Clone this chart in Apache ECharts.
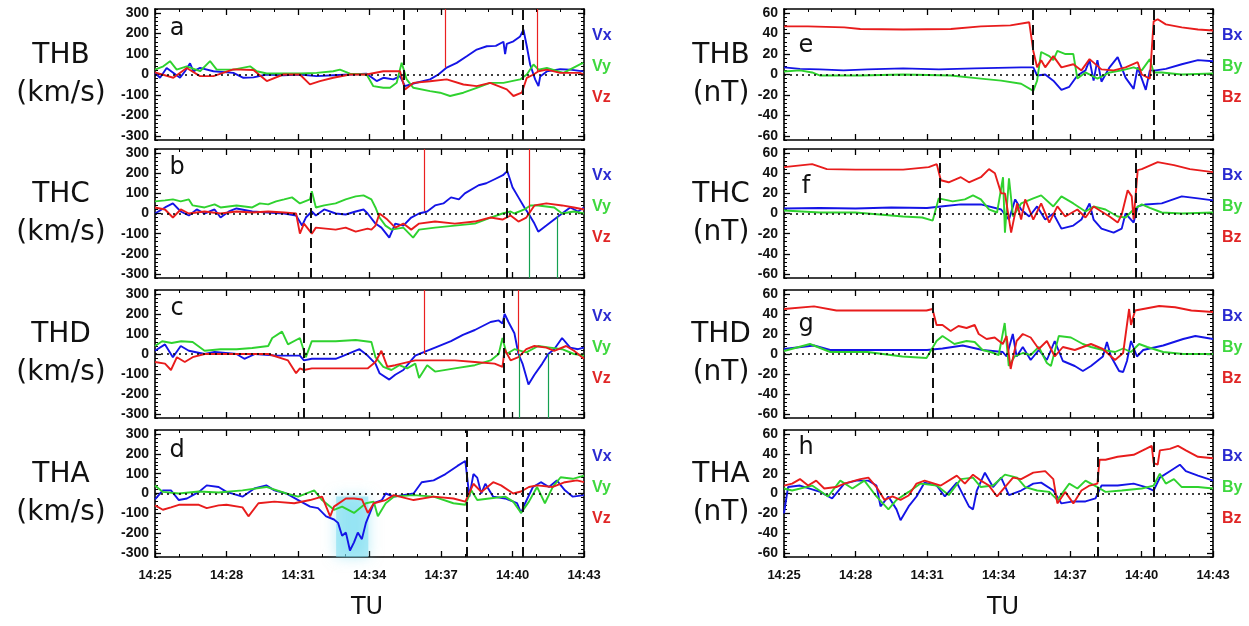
<!DOCTYPE html>
<html>
<head>
<meta charset="utf-8">
<script src="https://cdn.jsdelivr.net/npm/echarts@6/dist/echarts.min.js"></script>
<style>
  html, body { margin: 0; padding: 0; background: #ffffff; }
  #chart { width: 1249px; height: 626px; }
</style>
</head>
<body>
<div id="chart"></div>
<script>
// ---- Time is given in minutes after 14:00 (UT) ----

// Ion velocity (km/s)
const thbVx = [[25.0,8],[25.21,-16],[25.49,32],[26.05,-16],[26.26,16],[26.47,55],[26.61,15],[26.89,32],[27.45,16],[28.29,8],[28.71,-16],[29.13,-14],[29.69,0],[30.38,-4],[31.08,0],[31.78,-8],[32.48,-4],[33.18,0],[33.88,4],[34.3,-32],[34.58,-16],[35.0,-24],[35.28,-8],[35.49,-57],[35.84,-44],[36.54,-24],[36.89,0],[37.24,34],[37.66,57],[38.08,89],[38.5,122],[38.92,138],[39.3,140],[39.62,160],[39.69,100],[39.76,150],[40.04,162],[40.32,186],[40.46,219],[40.6,138],[40.74,49],[40.95,-24],[41.09,-57],[41.16,-10],[41.44,15],[42.0,26],[42.42,24],[42.97,15]];
const thbVy = [[25.0,24],[25.35,40],[25.63,65],[25.91,24],[26.33,40],[26.89,16],[27.31,65],[27.59,24],[28.29,24],[28.99,40],[29.27,16],[29.69,5],[31.08,5],[31.78,8],[32.48,16],[32.76,24],[33.18,4],[33.88,0],[34.16,-57],[34.58,-65],[34.86,-65],[35.14,-40],[35.35,57],[35.56,-24],[35.84,-65],[36.54,-81],[36.96,-89],[37.38,-105],[37.94,-89],[38.5,-65],[39.06,-41],[39.62,-41],[40.32,-24],[40.6,0],[40.88,49],[41.09,24],[41.44,32],[42.14,8],[42.83,49],[42.97,57]];
const thbVz = [[25.0,10],[25.77,-16],[26.33,32],[26.89,-8],[27.45,-8],[28.29,25],[29.13,22],[29.69,-32],[30.38,0],[31.08,0],[31.5,-48],[31.92,-32],[32.48,-16],[33.18,0],[33.88,0],[34.58,16],[35.28,16],[35.49,-73],[35.84,-41],[36.54,-33],[37.24,-24],[37.94,-49],[38.5,-57],[39.06,-41],[39.76,-73],[40.04,-105],[40.39,-89],[40.6,-16],[40.88,0],[41.09,16],[41.44,24],[42.0,8],[42.83,8],[42.97,0]];

const thcVx = [[25.0,0],[25.42,30],[25.75,50],[26.08,10],[26.42,-10],[26.75,20],[27.08,0],[27.5,20],[27.75,-20],[28.1,10],[28.42,25],[29.08,10],[29.75,5],[30.42,0],[30.92,-10],[31.17,-60],[31.33,-20],[31.58,10],[31.75,-10],[32.1,20],[32.58,0],[33.0,-5],[33.42,10],[33.75,20],[33.92,0],[34.25,-50],[34.5,-70],[34.83,-120],[35.08,-50],[35.42,-60],[35.75,-20],[36.08,0],[36.42,10],[36.75,40],[37.1,50],[37.42,80],[37.75,70],[38.0,100],[38.58,140],[38.9,150],[39.25,170],[39.6,190],[39.78,210],[39.92,160],[40.0,130],[40.25,80],[40.5,30],[40.67,0],[40.92,-50],[41.08,-90],[41.42,-60],[41.75,-30],[42.08,0],[42.42,30],[42.75,10],[43.0,30]];
const thcVy = [[25.0,60],[25.42,65],[25.75,70],[26.08,60],[26.42,70],[26.58,40],[27.08,30],[27.5,45],[27.75,30],[28.42,40],[29.08,30],[29.4,50],[29.75,45],[30.08,60],[30.42,70],[30.75,80],[31.08,50],[31.5,70],[31.58,110],[31.75,30],[32.1,40],[32.58,50],[33.0,70],[33.42,85],[33.75,90],[34.08,70],[34.25,30],[34.42,-20],[34.67,-60],[34.92,-80],[35.42,-70],[35.83,-120],[36.08,-80],[36.75,-70],[37.58,-60],[38.42,-50],[39.08,-20],[39.58,0],[39.92,10],[40.08,0],[40.5,20],[40.75,40],[41.08,40],[41.75,30],[42.08,0],[42.58,10],[43.0,0]];
const thcVz = [[25.0,30],[25.42,20],[25.75,-20],[26.08,20],[26.42,0],[27.08,10],[27.75,0],[28.42,10],[29.08,5],[29.75,10],[30.42,5],[30.92,0],[31.08,-100],[31.25,-50],[31.58,-100],[31.75,-70],[32.58,-80],[33.0,-70],[33.42,-90],[33.92,-75],[34.08,-80],[34.25,-60],[34.42,0],[34.75,-30],[35.08,-70],[35.42,-50],[35.75,-80],[36.08,-50],[36.75,-40],[37.58,-50],[38.42,-40],[39.08,-20],[39.58,-30],[39.92,-10],[40.25,-40],[40.58,-20],[40.92,40],[41.42,50],[42.08,40],[42.58,30],[43.0,20]];

const thdVx = [[25.0,16],[25.42,48],[25.75,-16],[26.08,40],[26.42,16],[27.08,0],[27.5,10],[28.42,0],[28.75,-24],[29.2,0],[30.08,-8],[31.08,-8],[31.25,-32],[31.58,-24],[32.58,-24],[32.92,-8],[33.58,24],[33.92,-8],[34.25,-48],[34.42,-96],[34.83,-128],[35.08,-104],[35.42,-80],[35.75,-32],[35.92,-8],[36.25,8],[36.75,32],[37.42,64],[37.92,96],[38.42,120],[39.08,160],[39.42,168],[39.58,152],[39.67,200],[39.83,160],[40.08,104],[40.25,0],[40.42,-48],[40.67,-152],[40.92,-104],[41.25,-48],[41.5,0],[41.75,24],[42.08,80],[42.42,32],[42.75,24],[43.0,32]];
const thdVy = [[25.0,40],[25.3,64],[25.7,55],[26.1,64],[26.58,60],[27.08,16],[27.75,24],[28.42,24],[29.08,30],[29.75,40],[29.92,80],[30.33,112],[30.58,48],[31.08,80],[31.33,-16],[31.58,64],[32.58,64],[33.42,70],[34.08,60],[34.25,-16],[34.58,-64],[34.92,-80],[35.25,-56],[35.58,-72],[35.92,-48],[36.08,-120],[36.42,-56],[36.75,-88],[37.58,-72],[38.42,-56],[39.08,-32],[39.42,0],[39.58,80],[39.75,0],[40.08,24],[40.58,8],[41.08,40],[41.58,32],[42.08,24],[42.58,0],[43.0,-8]];
const thdVz = [[25.0,-40],[25.42,-48],[25.67,-80],[25.92,-16],[26.25,-40],[26.58,-16],[27.08,0],[28.42,0],[29.75,0],[30.58,-32],[30.92,-96],[31.08,-72],[31.25,-80],[31.58,-72],[32.58,-72],[33.42,-72],[33.92,-72],[34.25,-40],[34.5,16],[34.75,-64],[35.08,-56],[35.92,-32],[36.75,-32],[37.58,-32],[38.42,-40],[39.25,-48],[39.58,-64],[39.67,24],[39.92,-32],[40.25,-16],[40.58,24],[40.92,40],[41.42,32],[41.75,16],[42.25,40],[42.58,16],[43.0,-24]];

const thaVx = [[25.0,-30],[25.33,16],[25.67,16],[26.0,-33],[26.34,-25],[26.84,8],[27.17,41],[27.67,33],[28.0,8],[28.67,-16],[29.17,25],[29.67,41],[30.01,16],[30.51,0],[31.01,-33],[31.51,-66],[31.84,-74],[32.18,-115],[32.51,-131],[32.68,-148],[32.85,-213],[33.01,-197],[33.18,-287],[33.35,-246],[33.51,-197],[33.68,-230],[33.85,-148],[34.02,-98],[34.18,-49],[34.52,-33],[34.68,0],[35.02,-16],[35.85,0],[36.19,57],[36.69,66],[37.19,98],[37.69,139],[38.02,164],[38.19,-16],[38.36,98],[38.52,80],[38.69,0],[38.86,49],[39.19,-16],[39.69,-25],[40.19,-49],[40.36,-98],[40.53,-49],[40.86,33],[41.19,57],[41.53,33],[41.86,66],[42.2,16],[42.53,-16],[43.0,-8]];
const thaVy = [[25.0,40],[25.33,8],[26.0,0],[26.84,10],[27.67,5],[28.67,16],[29.67,33],[30.51,0],[31.01,-16],[31.68,16],[32.01,-33],[32.51,-82],[32.85,-66],[33.35,-98],[33.85,-49],[34.18,-41],[34.35,-115],[34.68,-49],[35.02,-16],[35.85,-8],[36.69,-16],[37.52,-49],[38.02,-57],[38.27,16],[38.52,-33],[39.02,-25],[39.69,-16],[40.03,-41],[40.36,-98],[40.69,-41],[41.03,33],[41.36,-49],[41.69,33],[42.02,82],[42.53,74],[43.0,90]];
const thaVz = [[25.0,-60],[25.33,-82],[25.67,-70],[26.0,-57],[26.84,-57],[27.17,-74],[27.67,-60],[28.0,-57],[28.67,-70],[28.92,-115],[29.34,-49],[30.01,-41],[30.84,-49],[31.51,-33],[32.01,-16],[32.35,-115],[32.51,-66],[33.01,-25],[33.35,-25],[33.68,-30],[33.93,-98],[34.18,-49],[34.68,-33],[35.02,-8],[35.85,-33],[36.69,-16],[37.52,-25],[38.02,-41],[38.36,49],[38.69,8],[39.19,57],[39.52,41],[40.03,0],[40.36,10],[40.69,33],[41.03,41],[41.69,33],[42.2,57],[42.7,66],[43.0,57]];

// Magnetic field (nT)
const thbBx = [[25.0,7],[25.67,5.5],[26.5,5],[27.5,4],[28.5,5],[30.0,6],[31.5,5],[33.0,6],[34.95,7],[35.46,7],[35.62,-1],[35.96,0],[36.3,-6],[36.64,-15],[36.97,-12],[37.31,-1],[37.65,4],[37.82,14],[37.99,-6],[38.15,14],[38.32,-7],[38.66,7],[39.0,17],[39.33,-3],[39.67,-14],[39.84,7],[40.18,-15],[40.35,4],[40.6,4],[41.02,5.5],[41.69,10],[42.37,14],[43.0,13]];
const thbBy = [[25.0,3],[25.67,4],[26.18,2],[26.52,-1],[28.2,-1],[30.0,0],[32.0,-1],[33.26,-4],[34.11,-6],[34.95,-9],[35.46,-16],[35.62,-6],[35.79,22],[36.13,18],[36.3,14],[36.47,23],[36.81,20],[37.14,20],[37.31,-4],[37.65,2],[38.15,-4],[38.66,2],[39.17,4],[39.67,7],[40.01,4],[40.35,15],[40.51,2],[40.85,2],[41.69,0],[43.0,1]];
const thbBz = [[25.0,47],[26.0,47],[27.53,46],[28.2,44.5],[30.0,44],[32.0,44.5],[33.26,47],[34.5,48],[35.29,51],[35.46,23],[35.62,7],[35.79,14],[35.96,7],[36.3,18],[36.64,7],[37.14,10],[37.48,4],[37.82,15],[38.32,5],[38.83,4],[39.33,7],[39.84,12],[40.01,0],[40.35,-4],[40.51,52],[40.68,54],[41.02,49],[41.69,46],[42.37,44],[43.0,43]];

const thcBx = [[25.0,5],[26.5,5.5],[28.0,5],[29.5,6],[31.0,5.5],[31.58,7],[32.42,9],[33.26,9],[34.11,4],[34.44,-6],[34.7,14],[34.95,4],[35.29,-3],[35.62,7],[35.96,-6],[36.3,0],[36.64,-15],[37.14,-12],[37.48,-6],[37.82,10],[37.99,-6],[38.32,-15],[38.83,-19],[39.17,-15],[39.33,0],[39.67,-9],[39.84,7],[40.18,9],[40.85,10],[41.69,17],[42.37,15],[43.0,13]];
const thcBy = [[25.0,3],[26.5,1],[28.0,1],[29.0,-1],[30.0,-3],[30.8,-4],[31.24,-7],[31.49,15],[32.08,12],[32.59,14],[32.93,18],[33.26,14],[33.6,4],[33.94,1],[34.19,36],[34.27,-19],[34.44,35],[34.61,-3],[34.95,10],[35.46,15],[35.79,18],[36.3,7],[36.64,17],[37.14,10],[37.65,2],[37.99,7],[38.49,4],[39.0,-3],[39.33,-4],[39.67,4],[40.01,9],[40.35,5.5],[40.85,1],[41.69,0],[43.0,1]];
const thcBz = [[25.0,46],[26.18,49],[26.8,44],[28.0,43.5],[30.0,43.5],[31.07,46],[31.41,49],[31.58,33],[31.91,31],[32.42,36],[32.76,31],[33.26,36],[33.6,44],[33.85,40],[34.11,20],[34.27,20],[34.53,-19],[34.78,10],[34.95,-6],[35.12,14],[35.46,-6],[35.79,10],[36.13,-9],[36.47,7],[36.8,-3],[37.31,4],[37.65,-4],[37.99,7],[38.32,2],[38.66,-3],[39.0,-9],[39.17,-1],[39.42,23],[39.59,17],[39.67,-6],[39.84,43],[40.01,44],[40.68,51],[41.36,48],[42.03,44],[43.0,41]];

const thdBx = [[25.0,5],[26.26,8.5],[26.94,4],[28.5,4],[30.0,4],[31.0,4],[31.65,5.5],[32.5,8.5],[33.33,4],[34.18,2],[34.34,-2.5],[34.6,20],[34.76,-2.5],[35.02,7],[35.35,-6],[35.69,4],[36.03,-6],[36.36,13],[36.7,-7],[37.2,-12],[37.54,-17],[37.88,-12],[38.38,-2.5],[38.55,12],[38.72,-2.5],[39.06,-17],[39.23,-18],[39.39,-7],[39.56,13],[39.81,-2.5],[40.07,4],[40.91,8.5],[41.75,15],[42.26,18],[43.0,15]];
const thdBy = [[25.0,3],[26.09,10],[26.94,2],[28.5,2],[29.97,-2.5],[30.98,-4],[31.4,13],[31.65,18],[32.15,10],[32.66,13],[33.0,12],[33.33,4],[33.67,2],[34.01,-1],[34.26,31],[34.43,-12],[34.68,-2.5],[35.02,1],[35.35,-1],[35.69,7],[36.03,-9],[36.2,-12],[36.53,18],[37.04,16.5],[37.54,10],[37.88,7],[38.38,4],[38.89,2],[39.23,5.5],[39.56,2],[39.9,10],[40.24,7],[40.91,2],[41.75,0],[43.0,0]];
const thdBz = [[25.0,45],[26.26,47.6],[27.2,43.5],[29.0,43.5],[30.98,43.5],[31.23,45],[31.4,29],[31.65,29],[31.99,23],[32.32,28],[32.66,26],[33.0,29],[33.17,20],[33.5,15],[33.84,16.5],[34.18,10],[34.34,18],[34.51,-15],[34.76,13],[35.02,20],[35.35,16.5],[35.69,5],[36.03,13],[36.36,-2.5],[36.7,7],[37.2,4],[37.54,7],[37.88,10],[38.38,5],[38.89,-6],[39.23,1],[39.48,45],[39.56,29],[39.73,43.5],[40.07,45],[40.74,48],[41.41,46.7],[42.09,43.5],[43.0,42]];

const thaBx = [[25.0,-20],[25.17,6.5],[25.67,8],[26.52,1.6],[27.02,-5],[27.53,10],[28.04,13],[28.54,13],[28.88,8],[29.05,-13],[29.38,-3],[29.72,-16],[29.89,-27],[30.23,-13],[30.56,-3],[30.9,11],[31.41,8],[31.75,-3],[32.25,11],[32.76,-13],[32.93,-16],[33.09,3],[33.43,21],[33.77,6.5],[34.11,16],[34.44,-1.6],[34.95,3],[35.46,10],[35.79,11],[36.3,3],[36.64,-10],[37.14,-8],[37.65,-8],[38.07,-5],[38.32,8],[39.0,8],[39.67,10],[40.18,6.5],[40.51,3],[40.77,16],[41.19,22.5],[41.61,29],[41.86,22.5],[42.37,18],[43.0,13]];
const thaBy = [[25.0,5],[25.34,3],[26.18,8],[26.85,-3],[27.36,13],[27.87,5],[28.37,13],[28.88,-3],[29.38,-16],[29.72,-6.5],[30.23,1.6],[30.73,10],[31.41,8],[31.91,-1.6],[32.42,14.5],[32.93,16],[33.26,6.5],[33.77,8],[34.27,19],[34.78,16],[35.12,6.5],[35.62,3],[36.13,1.6],[36.47,-6.5],[36.97,10],[37.31,5],[37.65,13],[38.15,6.5],[38.49,1.6],[39.17,3],[40.01,5],[40.51,8],[40.77,20],[41.02,10],[41.36,14.5],[41.69,6.5],[42.37,6.5],[43.0,5]];
const thaBz = [[25.0,8],[25.34,10],[25.67,14.5],[26.01,8],[26.35,13],[26.69,5],[27.19,6.5],[27.53,10],[28.2,14.5],[28.54,16],[28.88,6.5],[29.22,-6.5],[29.55,-3],[29.89,-6.5],[30.23,-2],[30.56,10],[30.9,13],[31.58,8],[32.25,18],[32.59,10],[32.93,19],[33.26,13],[33.6,8],[33.94,-3],[34.27,6.5],[34.61,16],[34.95,14.5],[35.46,21],[35.96,22.5],[36.3,14.5],[36.47,-10],[36.8,1.6],[37.14,-10],[37.48,3],[37.82,8],[38.15,10],[38.24,34],[38.49,34],[39.0,37],[39.67,39],[40.18,45],[40.43,48],[40.51,30.6],[40.68,29],[40.77,43.5],[41.19,45],[41.53,48],[41.86,43.5],[42.37,37],[43.0,35.5]];

// Boundary crossings (dashed verticals), per panel
const dashA = [35.45, 40.44], dashB = [31.55, 39.77], dashC = [31.25, 39.65], dashD = [38.10, 40.44];
const dashE = [35.43, 40.52], dashF = [31.52, 39.75], dashG = [31.23, 39.67], dashH = [38.17, 40.52];

// Red / green event markers: [time, from value, to value]
const redA = [[37.17, 320, 33], [41.03, 320, 16]];
const redB = [[36.29, 320, 11], [40.70, 320, -5]];
const greenB = [[40.70, -5, -320], [41.88, -13, -320]];
const redC = [[36.29, 320, 0], [40.23, 320, 0]];
const greenC = [[40.27, 0, -320], [41.49, 0, -320]];

// Highlighted interval in THA velocity: [t start, t end, top value, bottom value]
const cyanD = [32.6, 33.95, -15, -320];

// Tick labels
const vTickLabels = [-300, -200, -100, 0, 100, 200, 300];
const bTickLabels = [-60, -40, -20, 0, 20, 40, 60];
const timeLabels = ['14:25', '14:28', '14:31', '14:34', '14:37', '14:40', '14:43'];

const vComps = ['Vx', 'Vy', 'Vz'];
const bComps = ['Bx', 'By', 'Bz'];

// ---- layout ----
const T0 = 25;
const LINE_COLORS = ['#1414e6', '#2fd22f', '#e81c1c'];
const TEXT_COLORS = ['#2a2ad0', '#3fd83f', '#e02626'];
const GRID_LEFT = [155, 784];
const GRID_W = 429;
const ROW_TOP = [9, 149, 290, 430];
const ROW_H = [131, 129, 128, 127];

const panels = [
  { sat: 'THB', unit: '(km/s)', letter: 'a', col: 0, row: 0, data: [thbVx, thbVy, thbVz], comps: vComps, dash: dashA, red: redA, green: [], letterDy: 20 },
  { sat: 'THC', unit: '(km/s)', letter: 'b', col: 0, row: 1, data: [thcVx, thcVy, thcVz], comps: vComps, dash: dashB, red: redB, green: greenB, letterDy: 19 },
  { sat: 'THD', unit: '(km/s)', letter: 'c', col: 0, row: 2, data: [thdVx, thdVy, thdVz], comps: vComps, dash: dashC, red: redC, green: greenC, letterDy: 19 },
  { sat: 'THA', unit: '(km/s)', letter: 'd', col: 0, row: 3, data: [thaVx, thaVy, thaVz], comps: vComps, dash: dashD, red: [], green: [], cyan: cyanD, letterDy: 21 },
  { sat: 'THB', unit: '(nT)', letter: 'e', col: 1, row: 0, data: [thbBx, thbBy, thbBz], comps: bComps, dash: dashE, red: [], green: [], letterDy: 37 },
  { sat: 'THC', unit: '(nT)', letter: 'f', col: 1, row: 1, data: [thcBx, thcBy, thcBz], comps: bComps, dash: dashF, red: [], green: [], letterDy: 38 },
  { sat: 'THD', unit: '(nT)', letter: 'g', col: 1, row: 2, data: [thdBx, thdBy, thdBz], comps: bComps, dash: dashG, red: [], green: [], letterDy: 35 },
  { sat: 'THA', unit: '(nT)', letter: 'h', col: 1, row: 3, data: [thaBx, thaBy, thaBz], comps: bComps, dash: dashH, red: [], green: [], letterDy: 18 }
];

const tickFont = { fontFamily: 'Liberation Sans', fontWeight: 'bold', fontSize: 14, color: '#111' };
const axisLineStyle = { color: '#000', width: 1.6 };

const grids = [], xAxes = [], yAxes = [], series = [], graphics = [];
const shift = arr => arr.map(p => [p[0] - T0, p[1]]);

panels.forEach((p, i) => {
  const left = GRID_LEFT[p.col];
  const top = ROW_TOP[p.row];
  const h = ROW_H[p.row];
  grids.push({ left: left, top: top, width: GRID_W, height: h });

  const isV = p.col === 0;
  const lim = isV ? 320 : 64;
  const minorStep = isV ? 20 : 4;
  const majors = isV ? vTickLabels : bTickLabels;

  // x axes: bottom (index xi) and top
  const xi = xAxes.length;
  ['bottom', 'top'].forEach(pos => {
    xAxes.push({
      gridIndex: i, type: 'value', position: pos, min: 0, max: 18, interval: 3,
      axisLine: { onZero: false, lineStyle: axisLineStyle },
      axisTick: { inside: true, length: 6, lineStyle: { color: '#000', width: 1.3 } },
      minorTick: { show: true, splitNumber: 3, length: 3, lineStyle: { color: '#000', width: 1 } },
      splitLine: { show: false }, minorSplitLine: { show: false },
      axisLabel: Object.assign({
        show: pos === 'bottom' && p.row === 3, margin: 12,
        formatter: v => timeLabels[Math.round(v / 3)]
      }, tickFont, { fontSize: 13 })
    });
  });

  // y axes: fine ticks (carries series) + major ticks/labels, on both sides
  const yi = yAxes.length;
  ['left', 'right'].forEach(pos => {
    yAxes.push({
      gridIndex: i, type: 'value', position: pos, min: -lim, max: lim, interval: minorStep,
      axisLine: { show: true, onZero: false, lineStyle: axisLineStyle },
      axisTick: { inside: true, length: 3, lineStyle: { color: '#000', width: 1 } },
      axisLabel: { show: false }, splitLine: { show: false }
    });
    yAxes.push({
      gridIndex: i, type: 'value', position: pos, min: -lim, max: lim,
      axisLine: { show: false, onZero: false },
      axisTick: { inside: true, length: 6, customValues: majors, lineStyle: { color: '#000', width: 1.3 } },
      axisLabel: Object.assign({ show: pos === 'left', customValues: majors, margin: 6, formatter: v => String(v) }, tickFont),
      splitLine: { show: false }
    });
  });

  // reference lines and markers
  const md = [{ yAxis: 0, lineStyle: { type: [2, 4], color: '#000', width: 1.5 } }];
  p.dash.forEach(t => md.push({ xAxis: t - T0, lineStyle: { type: [10, 5], color: '#111', width: 2 } }));
  p.red.forEach(m => md.push([
    { coord: [m[0] - T0, m[1]], lineStyle: { type: 'solid', color: '#ea2020', width: 1.2 } },
    { coord: [m[0] - T0, m[2]] }
  ]));
  p.green.forEach(m => md.push([
    { coord: [m[0] - T0, m[1]], lineStyle: { type: 'solid', color: '#14a050', width: 1.2 } },
    { coord: [m[0] - T0, m[2]] }
  ]));
  const markerSeries = {
    type: 'line', xAxisIndex: xi, yAxisIndex: yi, data: [], z: 1, silent: true,
    markLine: { silent: true, symbol: ['none', 'none'], label: { show: false }, animation: false, data: md }
  };
  if (p.cyan) {
    markerSeries.markArea = {
      silent: true, animation: false,
      itemStyle: { color: 'rgba(120,220,240,0.55)', shadowBlur: 14, shadowColor: 'rgba(120,220,240,0.95)' },
      data: [[{ coord: [p.cyan[0] - T0, p.cyan[2]] }, { coord: [p.cyan[1] - T0, p.cyan[3]] }]]
    };
  }
  series.push(markerSeries);

  p.data.forEach((arr, k) => {
    series.push({
      type: 'line', name: p.sat + ' ' + p.comps[k], xAxisIndex: xi, yAxisIndex: yi,
      data: shift(arr), showSymbol: false, symbol: 'none', z: 3,
      lineStyle: { color: LINE_COLORS[k], width: 1.9 }, itemStyle: { color: LINE_COLORS[k] },
      animation: false
    });
  });

  // panel titles, letters and component labels
  const mid = top + h / 2;
  const titleX = isV ? 61 : 721;
  graphics.push({ type: 'text', x: titleX, y: mid - 19, style: { text: p.sat, font: '28px "DejaVu Sans"', fill: '#111', align: 'center', verticalAlign: 'middle' } });
  graphics.push({ type: 'text', x: titleX, y: mid + 19, style: { text: p.unit, font: '28px "DejaVu Sans"', fill: '#111', align: 'center', verticalAlign: 'middle' } });
  graphics.push({ type: 'text', x: left + 22, y: top + p.letterDy, style: { text: p.letter, font: '24px "DejaVu Sans"', fill: '#111', align: 'center', verticalAlign: 'middle' } });
  const legX = isV ? 592 : 1222;
  p.comps.forEach((c, k) => {
    graphics.push({ type: 'text', x: legX, y: top + 27 + 31 * k, style: { text: c, font: 'bold 16px "Liberation Sans"', fill: TEXT_COLORS[k], align: 'left', verticalAlign: 'middle' } });
  });
});

graphics.push({ type: 'text', x: 367, y: 608, style: { text: 'TU', font: '24px "DejaVu Sans"', fill: '#111', align: 'center', verticalAlign: 'middle' } });
graphics.push({ type: 'text', x: 1003, y: 608, style: { text: 'TU', font: '24px "DejaVu Sans"', fill: '#111', align: 'center', verticalAlign: 'middle' } });

const chart = echarts.init(document.getElementById('chart'), null, { renderer: 'canvas' });
chart.setOption({
  backgroundColor: '#ffffff',
  animation: false,
  grid: grids,
  xAxis: xAxes,
  yAxis: yAxes,
  series: series,
  graphic: graphics
});
</script>
</body>
</html>
